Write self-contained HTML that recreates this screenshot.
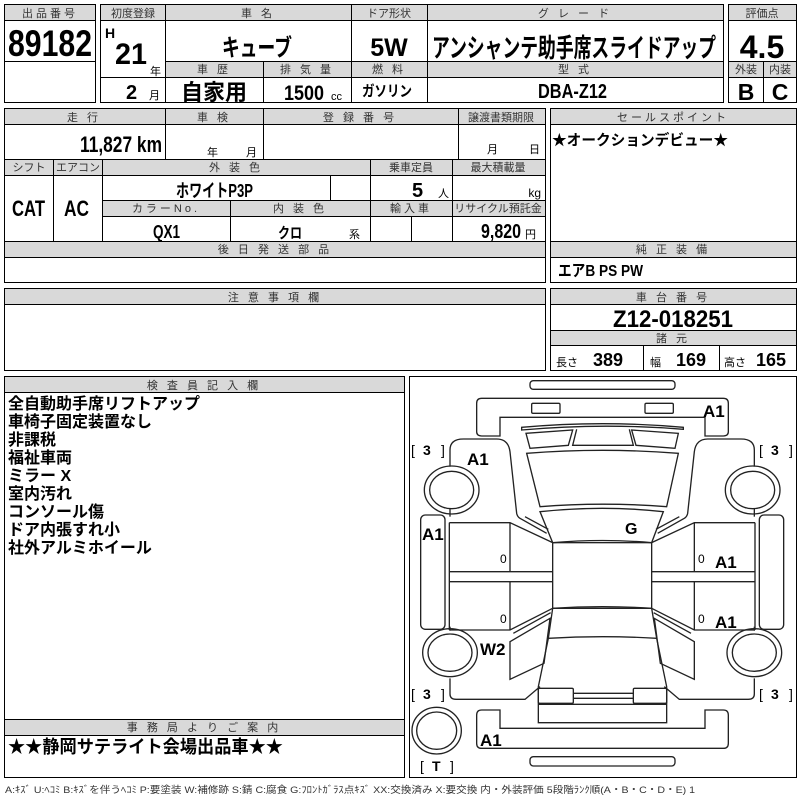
<!DOCTYPE html>
<html><head><meta charset="utf-8"><style>
html,body{margin:0;padding:0;background:#fff;width:800px;height:800px;overflow:hidden}
svg{display:block}
text{font-family:"Liberation Sans","Noto Sans CJK JP",sans-serif;fill:#000}
.lb{font-size:11px;fill:#333;text-anchor:middle;letter-spacing:3px}
.b{font-weight:bold}
.c{text-anchor:middle}
.r{text-anchor:end}
</style></head><body>
<svg width="800" height="800" viewBox="0 0 800 800" xmlns="http://www.w3.org/2000/svg">
<g stroke="#000" stroke-width="1" fill="none">
<g stroke="none" fill="#d9d9d9">
<rect x="5" y="5" width="90" height="15"/>
<rect x="101" y="5" width="622" height="15"/>
<rect x="165" y="61" width="558" height="16"/>
<rect x="729" y="5" width="67" height="15"/>
<rect x="729" y="61" width="67" height="16"/>
<rect x="5" y="109" width="540" height="15"/>
<rect x="5" y="159" width="540" height="16"/>
<rect x="102" y="200" width="443" height="16"/>
<rect x="5" y="241" width="540" height="16"/>
<rect x="551" y="109" width="245" height="15"/>
<rect x="551" y="241" width="245" height="16"/>
<rect x="5" y="289" width="540" height="15"/>
<rect x="551" y="289" width="245" height="15"/>
<rect x="551" y="330" width="245" height="15"/>
<rect x="5" y="377" width="399" height="15"/>
<rect x="5" y="719" width="399" height="16"/>
</g>
<rect x="4.5" y="4.5" width="91" height="98"/>
<path d="M4.5 20.5H95.5M4.5 61.5H95.5"/>
<rect x="100.5" y="4.5" width="623" height="98"/>
<path d="M100.5 20.5H723.5M165.5 61.5H723.5M165.5 77.5H723.5M100.5 77.5H165.5M165.5 4.5V102.5M351.5 4.5V102.5M427.5 4.5V102.5M263.5 61.5V102.5"/>
<rect x="728.5" y="4.5" width="68" height="98"/>
<path d="M728.5 20.5H796.5M728.5 61.5H796.5M728.5 77.5H796.5M763.5 61.5V102.5"/>
<rect x="4.5" y="108.5" width="541" height="174"/>
<path d="M4.5 124.5H545.5M4.5 159.5H545.5M4.5 175.5H545.5M102.5 200.5H545.5M102.5 216.5H545.5M4.5 241.5H545.5M4.5 257.5H545.5"/>
<path d="M165.5 108.5V159.5M263.5 108.5V159.5M458.5 108.5V159.5M53.5 159.5V241.5M102.5 159.5V241.5M370.5 159.5V241.5M452.5 159.5V241.5M330.5 175.5V200.5M230.5 200.5V241.5M411.5 216.5V241.5"/>
<rect x="550.5" y="108.5" width="246" height="174"/>
<path d="M550.5 124.5H796.5M550.5 241.5H796.5M550.5 257.5H796.5"/>
<rect x="4.5" y="288.5" width="541" height="82"/>
<path d="M4.5 304.5H545.5"/>
<rect x="550.5" y="288.5" width="246" height="82"/>
<path d="M550.5 304.5H796.5M550.5 330.5H796.5M550.5 345.5H796.5M643.5 345.5V370.5M719.5 345.5V370.5"/>
<rect x="4.5" y="376.5" width="400" height="401"/>
<path d="M4.5 392.5H404.5M4.5 719.5H404.5M4.5 735.5H404.5"/>
<rect x="409.5" y="376.5" width="387" height="401"/>
</g>

<text class="lb" x="50" y="17">出品番号</text>
<text class="lb" x="133" y="17" style="letter-spacing:0">初度登録</text>
<text class="lb" x="258" y="17">車 名</text>
<text class="lb" x="389" y="17" style="letter-spacing:0">ドア形状</text>
<text class="lb" x="575" y="17">グ レ ー ド</text>
<text class="lb" x="762" y="17" style="letter-spacing:0">評価点</text>
<text class="lb" x="214" y="73">車 歴</text>
<text class="lb" x="307" y="73">排 気 量</text>
<text class="lb" x="389" y="73">燃 料</text>
<text class="lb" x="575" y="73">型 式</text>
<text class="lb" x="746" y="73" style="letter-spacing:0">外装</text>
<text class="lb" x="780" y="73" style="letter-spacing:0">内装</text>

<text class="b" x="8" y="56" style="font-size:37px" textLength="84" lengthAdjust="spacingAndGlyphs">89182</text>
<text class="b" x="105" y="38" style="font-size:14px">H</text>
<text class="b" x="115" y="64" style="font-size:30px" textLength="32" lengthAdjust="spacingAndGlyphs">21</text>
<text x="150" y="75" style="font-size:11px">年</text>
<text class="b" x="126" y="99" style="font-size:20px">2</text>
<text x="149" y="99" style="font-size:11px">月</text>
<text class="b" x="222" y="56" style="font-size:24px" textLength="70" lengthAdjust="spacingAndGlyphs">キューブ</text>
<text class="b c" x="389" y="56" style="font-size:25px">5W</text>
<text class="b" x="432" y="57" style="font-size:26px" textLength="284" lengthAdjust="spacingAndGlyphs">アンシャンテ助手席スライドアップ</text>
<text class="b c" x="762" y="58" style="font-size:32px">4.5</text>
<text class="b c" x="214" y="100" style="font-size:22px">自家用</text>
<text class="b" x="284" y="100" style="font-size:21px" textLength="40" lengthAdjust="spacingAndGlyphs">1500</text>
<text x="331" y="100" style="font-size:11px">cc</text>
<text class="b" x="362" y="96" style="font-size:15px" textLength="50" lengthAdjust="spacingAndGlyphs">ガソリン</text>
<text class="b" x="538" y="98" style="font-size:20px" textLength="69" lengthAdjust="spacingAndGlyphs">DBA-Z12</text>
<text class="b c" x="746" y="100" style="font-size:23px">B</text>
<text class="b c" x="780" y="100" style="font-size:23px">C</text>

<text class="lb" x="84" y="121">走 行</text>
<text class="lb" x="214" y="121">車 検</text>
<text class="lb" x="360" y="121">登 録 番 号</text>
<text class="lb" x="501" y="121" style="letter-spacing:0">譲渡書類期限</text>
<text class="b r" x="162" y="152" style="font-size:22px" textLength="82" lengthAdjust="spacingAndGlyphs">11,827 km</text>
<text x="207" y="156" style="font-size:11px">年</text>
<text x="246" y="156" style="font-size:11px">月</text>
<text x="487" y="153" style="font-size:11px">月</text>
<text x="529" y="153" style="font-size:11px">日</text>
<text class="lb" x="29" y="171" style="letter-spacing:0">シフト</text>
<text class="lb" x="78" y="171" style="letter-spacing:0">エアコン</text>
<text class="lb" x="236" y="171">外 装 色</text>
<text class="lb" x="411" y="171" style="letter-spacing:0">乗車定員</text>
<text class="lb" x="498" y="171" style="letter-spacing:0">最大積載量</text>
<text class="b" x="12" y="216" style="font-size:22px" textLength="33" lengthAdjust="spacingAndGlyphs">CAT</text>
<text class="b" x="64" y="216" style="font-size:22px" textLength="25" lengthAdjust="spacingAndGlyphs">AC</text>
<text class="b" x="176" y="197" style="font-size:18px" textLength="77" lengthAdjust="spacingAndGlyphs">ホワイトP3P</text>
<text class="b" x="412" y="197" style="font-size:20px">5</text>
<text x="438" y="197" style="font-size:11px">人</text>
<text class="r" x="541" y="197" style="font-size:12px">kg</text>
<text class="lb" x="166" y="212">カラーNo.</text>
<text class="lb" x="300" y="212">内 装 色</text>
<text class="lb" x="411" y="212">輸入車</text>
<text class="lb" x="498" y="212" style="letter-spacing:0">リサイクル預託金</text>
<text class="b" x="153" y="238" style="font-size:18px" textLength="27" lengthAdjust="spacingAndGlyphs">QX1</text>
<text class="b" x="278" y="238" style="font-size:15px" textLength="24" lengthAdjust="spacingAndGlyphs">クロ</text>
<text x="349" y="238" style="font-size:11px">系</text>
<text class="b" x="481" y="238" style="font-size:20px" textLength="40" lengthAdjust="spacingAndGlyphs">9,820</text>
<text x="525" y="238" style="font-size:11px">円</text>
<text class="lb" x="275" y="253">後 日 発 送 部 品</text>
<text class="lb" x="673" y="121">セールスポイント</text>
<text class="b" x="552" y="145" style="font-size:15px" textLength="176" lengthAdjust="spacingAndGlyphs">★オークションデビュー★</text>
<text class="lb" x="673" y="253">純 正 装 備</text>
<text class="b" x="558" y="276" style="font-size:16px" textLength="85" lengthAdjust="spacingAndGlyphs">エアB PS PW</text>

<text class="lb" x="275" y="301">注 意 事 項 欄</text>
<text class="lb" x="673" y="301">車 台 番 号</text>
<text class="b c" x="673" y="327" style="font-size:24px" textLength="120" lengthAdjust="spacingAndGlyphs">Z12-018251</text>
<text class="lb" x="673" y="342">諸 元</text>
<text x="556" y="366" style="font-size:11px">長さ</text>
<text class="b" x="593" y="366" style="font-size:18px">389</text>
<text x="650" y="366" style="font-size:11px">幅</text>
<text class="b" x="676" y="366" style="font-size:18px">169</text>
<text x="724" y="366" style="font-size:11px">高さ</text>
<text class="b" x="756" y="366" style="font-size:18px">165</text>

<text class="lb" x="204" y="389">検 査 員 記 入 欄</text>
<g class="b" style="font-size:16px">
<text x="8" y="409">全自動助手席リフトアップ</text>
<text x="8" y="427">車椅子固定装置なし</text>
<text x="8" y="445">非課税</text>
<text x="8" y="463">福祉車両</text>
<text x="8" y="481">ミラー X</text>
<text x="8" y="499">室内汚れ</text>
<text x="8" y="517">コンソール傷</text>
<text x="8" y="535">ドア内張すれ小</text>
<text x="8" y="553">社外アルミホイール</text>
</g>
<text class="lb" x="204" y="731">事 務 局 よ り ご 案 内</text>
<text class="b" x="8" y="753" style="font-size:18px" textLength="275" lengthAdjust="spacingAndGlyphs">★★静岡サテライト会場出品車★★</text>
<text x="5" y="793" style="font-size:9.5px;fill:#333" textLength="690" lengthAdjust="spacingAndGlyphs">A:ｷｽﾞ U:ﾍｺﾐ B:ｷｽﾞを伴うﾍｺﾐ P:要塗装 W:補修跡 S:錆 C:腐食 G:ﾌﾛﾝﾄｶﾞﾗｽ点ｷｽﾞ XX:交換済み X:要交換 内・外装評価 5段階ﾗﾝｸ順(A・B・C・D・E) 1</text>

<g transform="translate(400,370) scale(0.33333)" stroke="#222" stroke-width="4" fill="none">
<rect x="390" y="32" width="435" height="26" rx="10"/>
<path d="M245,85 H970 Q985,85 985,100 V185 Q985,198 970,198 H915 V142 H300 V198 H245 Q230,198 230,185 V100 Q230,85 245,85 Z"/>
<rect x="395" y="100" width="85" height="30" rx="4"/>
<rect x="735" y="100" width="85" height="30" rx="4"/>
<path d="M365,172 Q608,150 850,172 L850,178 Q608,158 365,180 Z"/>
<path d="M378,190 L518,180 L505,226 L390,235 Z"/>
<path d="M695,180 L835,190 L825,235 L708,226 Z"/>
<path d="M530,178 L518,226 L700,226 L688,178"/>
<path d="M380,250 Q608,232 835,250 L800,410 Q608,395 420,410 Z"/>
<path d="M420,425 Q608,405 790,425 L755,518 Q608,505 458,518 Z"/>
<rect x="458" y="518" width="297" height="197"/>
<path d="M458,715 Q608,705 755,715 L770,805 Q608,795 445,805 Z"/>
<path d="M445,805 L415,950 V1058 H800 V950 L770,805"/>
<rect x="415" y="955" width="105" height="45" rx="4"/>
<rect x="700" y="955" width="100" height="45" rx="4"/>
<path d="M520,970 H700 M520,985 H700 M415,1003 H800"/>
<path d="M245,1020 H300 V1075 H915 V1020 H970 Q985,1020 985,1035 V1120 Q985,1135 970,1135 H245 Q230,1135 230,1120 V1035 Q230,1020 245,1020 Z"/>
<rect x="390" y="1160" width="435" height="28" rx="10"/>
<ellipse cx="110" cy="1082" rx="74" ry="70"/>
<ellipse cx="110" cy="1082" rx="60" ry="56"/>
<g id="side">
<path d="M150,290 V240 Q150,207 190,207 H290 Q325,207 330,245 L350,430 Q352,440 360,445 L440,490"/>
<path d="M150,415 V440"/>
<path d="M148,458 H330 L458,518 M330,458 V605 M148,458 V780 M148,605 H458 M148,635 H458 M330,635 V780 M148,780 H330 L458,715"/>
<path d="M375,440 L445,478"/>
<rect x="62" y="435" width="73" height="343" rx="14"/>
<ellipse cx="155" cy="360" rx="82" ry="72"/>
<ellipse cx="155" cy="360" rx="66" ry="56"/>
<ellipse cx="150" cy="848" rx="82" ry="72"/>
<ellipse cx="150" cy="848" rx="66" ry="56"/>
<path d="M330,815 L450,745 L432,880 L330,928 Z"/>
<path d="M340,790 L452,728"/>
<path d="M150,925 V972 Q150,988 168,988 H375 L420,950"/>
<path d="M150,770 V782"/>
</g>
<use href="#side" transform="translate(1213,0) scale(-1,1)"/>
</g>
<g class="b" style="font-size:17px">
<text x="703" y="417">A1</text>
<text x="467" y="465">A1</text>
<text x="422" y="540">A1</text>
<text x="625" y="534" style="font-size:16px">G</text>
<text x="715" y="568">A1</text>
<text x="715" y="628">A1</text>
<text x="480" y="655">W2</text>
<text x="480" y="746">A1</text>
</g>
<g style="font-size:14px;fill:#333">
<text x="411" y="455">[</text><text class="b" x="423" y="455">3</text><text x="441" y="455">]</text>
<text x="759" y="455">[</text><text class="b" x="771" y="455">3</text><text x="789" y="455">]</text>
<text x="411" y="699">[</text><text class="b" x="423" y="699">3</text><text x="441" y="699">]</text>
<text x="759" y="699">[</text><text class="b" x="771" y="699">3</text><text x="789" y="699">]</text>
<text x="420" y="771">[</text><text class="b" x="432" y="771">T</text><text x="450" y="771">]</text>
</g>
<g style="font-size:12px;fill:#333">
<text x="500" y="563">0</text>
<text x="698" y="563">0</text>
<text x="500" y="623">0</text>
<text x="698" y="623">0</text>
</g>
</svg>
</body></html>
